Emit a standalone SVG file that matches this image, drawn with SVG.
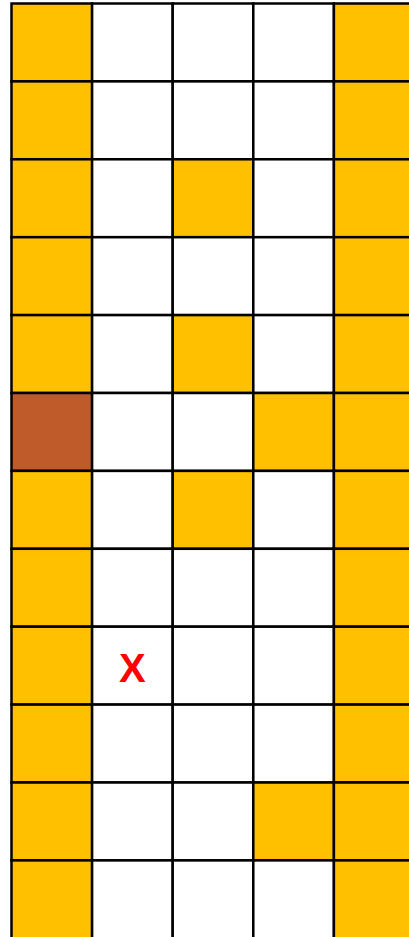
<svg xmlns="http://www.w3.org/2000/svg" width="409" height="937" viewBox="0 0 409 937">
<style>
.c rect{stroke:#000;stroke-width:2.5}
.w{fill:#fff}.y{fill:#FFC000}.b{fill:#BF5A2B}
text{font-family:"Liberation Sans",Arial,sans-serif;font-weight:bold;font-size:40px;fill:#FF0000;text-anchor:middle}
</style>
<rect x="0" y="0" width="409" height="937" fill="#fff"/>
<g class="c">
<g id="row0"><rect class="y" x="11.5" y="3.5" width="80.6" height="77.9"/><rect class="w" x="92.1" y="3.5" width="80.6" height="77.9"/><rect class="w" x="172.7" y="3.5" width="80.6" height="77.9"/><rect class="w" x="253.3" y="3.5" width="80.6" height="77.9"/><rect class="y" x="333.9" y="3.5" width="80.6" height="77.9"/></g>
<g id="row1"><rect class="y" x="11.5" y="81.4" width="80.6" height="77.9"/><rect class="w" x="92.1" y="81.4" width="80.6" height="77.9"/><rect class="w" x="172.7" y="81.4" width="80.6" height="77.9"/><rect class="w" x="253.3" y="81.4" width="80.6" height="77.9"/><rect class="y" x="333.9" y="81.4" width="80.6" height="77.9"/></g>
<g id="row2"><rect class="y" x="11.5" y="159.3" width="80.6" height="77.9"/><rect class="w" x="92.1" y="159.3" width="80.6" height="77.9"/><rect class="y" x="172.7" y="159.3" width="80.6" height="77.9"/><rect class="w" x="253.3" y="159.3" width="80.6" height="77.9"/><rect class="y" x="333.9" y="159.3" width="80.6" height="77.9"/></g>
<g id="row3"><rect class="y" x="11.5" y="237.2" width="80.6" height="77.9"/><rect class="w" x="92.1" y="237.2" width="80.6" height="77.9"/><rect class="w" x="172.7" y="237.2" width="80.6" height="77.9"/><rect class="w" x="253.3" y="237.2" width="80.6" height="77.9"/><rect class="y" x="333.9" y="237.2" width="80.6" height="77.9"/></g>
<g id="row4"><rect class="y" x="11.5" y="315.1" width="80.6" height="77.9"/><rect class="w" x="92.1" y="315.1" width="80.6" height="77.9"/><rect class="y" x="172.7" y="315.1" width="80.6" height="77.9"/><rect class="w" x="253.3" y="315.1" width="80.6" height="77.9"/><rect class="y" x="333.9" y="315.1" width="80.6" height="77.9"/></g>
<g id="row5"><rect class="b" x="11.5" y="393" width="80.6" height="77.9"/><rect class="w" x="92.1" y="393" width="80.6" height="77.9"/><rect class="w" x="172.7" y="393" width="80.6" height="77.9"/><rect class="y" x="253.3" y="393" width="80.6" height="77.9"/><rect class="y" x="333.9" y="393" width="80.6" height="77.9"/></g>
<g id="row6"><rect class="y" x="11.5" y="470.9" width="80.6" height="77.9"/><rect class="w" x="92.1" y="470.9" width="80.6" height="77.9"/><rect class="y" x="172.7" y="470.9" width="80.6" height="77.9"/><rect class="w" x="253.3" y="470.9" width="80.6" height="77.9"/><rect class="y" x="333.9" y="470.9" width="80.6" height="77.9"/></g>
<g id="row7"><rect class="y" x="11.5" y="548.8" width="80.6" height="77.9"/><rect class="w" x="92.1" y="548.8" width="80.6" height="77.9"/><rect class="w" x="172.7" y="548.8" width="80.6" height="77.9"/><rect class="w" x="253.3" y="548.8" width="80.6" height="77.9"/><rect class="y" x="333.9" y="548.8" width="80.6" height="77.9"/></g>
<g id="row8"><rect class="y" x="11.5" y="626.7" width="80.6" height="77.9"/><rect class="w" x="92.1" y="626.7" width="80.6" height="77.9"/><rect class="w" x="172.7" y="626.7" width="80.6" height="77.9"/><rect class="w" x="253.3" y="626.7" width="80.6" height="77.9"/><rect class="y" x="333.9" y="626.7" width="80.6" height="77.9"/></g>
<g id="row9"><rect class="y" x="11.5" y="704.6" width="80.6" height="77.9"/><rect class="w" x="92.1" y="704.6" width="80.6" height="77.9"/><rect class="w" x="172.7" y="704.6" width="80.6" height="77.9"/><rect class="w" x="253.3" y="704.6" width="80.6" height="77.9"/><rect class="y" x="333.9" y="704.6" width="80.6" height="77.9"/></g>
<g id="row10"><rect class="y" x="11.5" y="782.5" width="80.6" height="77.9"/><rect class="w" x="92.1" y="782.5" width="80.6" height="77.9"/><rect class="w" x="172.7" y="782.5" width="80.6" height="77.9"/><rect class="y" x="253.3" y="782.5" width="80.6" height="77.9"/><rect class="y" x="333.9" y="782.5" width="80.6" height="77.9"/></g>
<g id="row11"><rect class="y" x="11.5" y="860.4" width="80.6" height="77.9"/><rect class="w" x="92.1" y="860.4" width="80.6" height="77.9"/><rect class="w" x="172.7" y="860.4" width="80.6" height="77.9"/><rect class="w" x="253.3" y="860.4" width="80.6" height="77.9"/><rect class="y" x="333.9" y="860.4" width="80.6" height="77.9"/></g>
</g>
<g id="mark"><text x="132.4" y="681.5">X</text></g>
</svg>
